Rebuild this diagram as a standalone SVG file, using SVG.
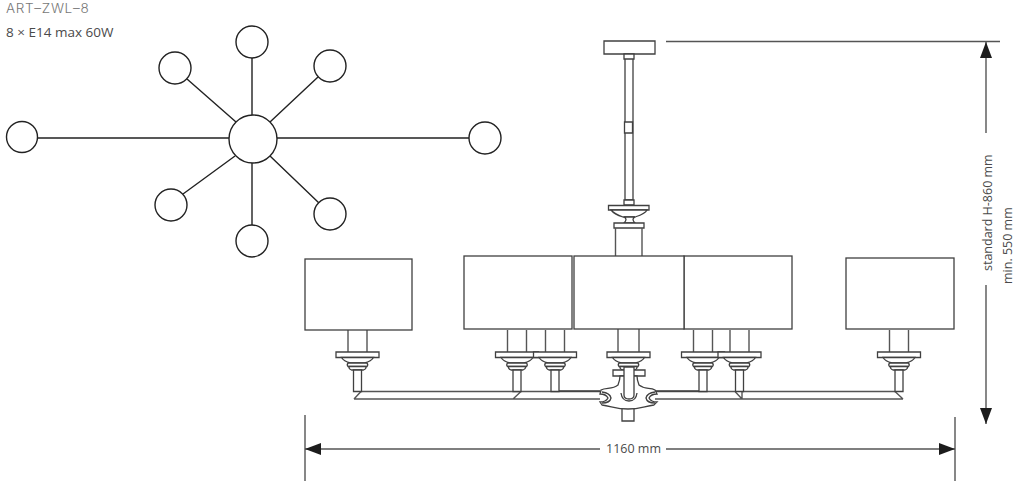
<svg xmlns="http://www.w3.org/2000/svg" width="1020" height="481" viewBox="0 0 1020 481">
<style>
.o{fill:#fff;stroke:#404040;stroke-width:1.3}
.l{fill:none;stroke:#404040;stroke-width:1.3}
.g{fill:none;stroke:#555;stroke-width:1.4}
.t{fill:#4a4a4a;font-family:"Open Sans","Noto Sans",sans-serif;font-size:12.500px}
.c{fill:#fff;stroke:#222;stroke-width:1.4}
.w{fill:none;stroke:#222;stroke-width:1.4}
</style>
<defs>
<marker id="a" viewBox="0 0 16 12" refX="16" refY="6" markerWidth="16" markerHeight="12" markerUnits="userSpaceOnUse" orient="auto-start-reverse"><path d="M0 0L16 6L0 12Z" fill="#1c1c1c"/></marker>
<g id="cup">
<path class="o" d="M-21.500 0H21.500V5.500H-21.500Z"/>
<path class="o" d="M-16 5.500C-14 9 -9 10.500 -7 11H7C9 10.500 14 9 16 5.500Z"/>
<path class="o" d="M-9.500 11H9.500Q11 13 9.500 14.500H-9.500Q-11 13 -9.500 11Z"/>
<path class="o" d="M-8.500 14.500H8.500Q9 17 6 18H-6Q-9 17 -8.500 14.500Z"/>
</g>
<g id="lamp">
<path class="g" d="M-9.500 -22V0M9.500 -22V0"/>
<use href="#cup"/>
<path class="o" d="M-4 18V39.500H4V18Z"/>
</g>
</defs>
<g id="title">
<text x="6" y="13" style="fill:#777;font-family:Inter,sans-serif;font-size:13.500px;font-weight:300;letter-spacing:.7px">ART–ZWL–8</text>
<text x="6" y="37" class="t" style="font-size:13.500px">8 × E14 max 60W</text>
</g>
<g id="connectors">
<path class="w" d="M37 138H229M277 138H469M252 115V58M252 163V225M236 122L187 79M270 122L318 77M235 156L183 194M270 156L319 203"/>
</g>
<g id="plan-hub"><circle class="c" cx="253" cy="139" r="24"/></g>
<g id="plan-1"><circle class="c" cx="22" cy="137" r="15.500"/></g>
<g id="plan-2"><circle class="c" cx="485" cy="138" r="16"/></g>
<g id="plan-3"><circle class="c" cx="252" cy="42" r="16"/></g>
<g id="plan-4"><circle class="c" cx="175" cy="68" r="16"/></g>
<g id="plan-5"><circle class="c" cx="330" cy="66" r="16"/></g>
<g id="plan-6"><circle class="c" cx="171" cy="205" r="16"/></g>
<g id="plan-7"><circle class="c" cx="330" cy="214" r="16"/></g>
<g id="plan-8"><circle class="c" cx="252" cy="241" r="16"/></g>
<g id="suspension">
<path class="o" d="M625 58H633V200H625Z"/>
<path class="o" d="M624.500 122H632.500V133H624.500Z"/>
<path class="o" d="M604 41H655V54H604Z"/>
<path class="o" d="M624 54H634V59H624Z"/>
<path class="o" d="M624 200H634V205H624Z"/>
<path class="o" d="M608.500 205.500H649V210H608.500Z"/>
<path class="o" d="M611 210C614 214 620 216 623 217H635C638 216 645 214 647 210Z"/>
<path class="o" d="M624 217Q628 219 624 223H635Q631 219 635 217Z"/>
<path class="o" d="M614 223H644V228H614Z"/>
<path class="g" d="M615.500 228V257M642 228V257"/>
</g>
<g id="arms">
<path class="g" d="M361 391.500H600M354 399H600M354 399L361 391.500M513 399L521 391.500"/>
<path class="g" d="M655 391.500H735M655 399H742M742 399L735 391.500M742 399V391.500M742 391.500H895M742 399H903M903 399L895 391.500"/>
<path class="l" d="M558 391H600M655 391H699"/>
</g>
<g id="lamp-1"><use href="#lamp" x="357.500" y="352"/></g>
<g id="lamp-2"><use href="#lamp" x="517" y="352"/></g>
<g id="lamp-3"><use href="#lamp" x="555" y="352"/></g>
<g id="lamp-4"><use href="#lamp" x="703" y="352"/></g>
<g id="lamp-5"><use href="#lamp" x="739.500" y="352"/></g>
<g id="lamp-6"><use href="#lamp" x="899" y="352"/></g>
<g id="hub">
<path class="g" d="M618 329V352M639 329V352"/>
<use href="#cup" x="628.500" y="352"/>
<path class="o" d="M613 370H645V376H613Z"/>
<path class="o" d="M622 408H634V421H622Z"/>
<path class="o" d="M601 390C606 387 612 390 618 385Q620 380 620 376H637Q637 380 639 385C645 390 650 387 655 390L657 394Q651 394 649 398Q651 402 657 402L654 405C645 406 640 409 628 409C616 409 611 406 602 405L600 402Q606 402 608 398Q606 394 600 394Z"/>
<path class="l" d="M602 392Q610 393 611 398Q610 403 602 403M655 392Q647 393 646 398Q647 403 655 403"/>
<path class="o" d="M624 367H634V395Q634 399 629 399Q624 399 624 395Z"/>
<path class="l" d="M621 393Q622 401 629 401Q636 401 637 393"/>
</g>
<g id="shades">
<rect class="o" x="305" y="259" width="107" height="71"/>
<rect class="o" x="464" y="256" width="108" height="73"/>
<rect class="o" x="846" y="258" width="108" height="71"/>
<rect class="o" x="684" y="256" width="108" height="73"/>
<rect class="o" x="574" y="256" width="110" height="73"/>
</g>
<g id="dimensions">
<path class="g" d="M666 41.500H1000M305 415V481M955 417V481"/>
<path class="g" d="M986 133V42" marker-end="url(#a)"/>
<path class="g" d="M986 285V424" marker-end="url(#a)"/>
<path class="g" d="M600 449H305" marker-end="url(#a)"/>
<path class="g" d="M666 449H955" marker-end="url(#a)"/>
<text class="t" x="606" y="453">1160 mm</text>
<text class="t" transform="translate(992 271) rotate(-90)">standard H-860 mm</text>
<text class="t" transform="translate(1012 284) rotate(-90)">min. 550 mm</text>
</g>
</svg>
